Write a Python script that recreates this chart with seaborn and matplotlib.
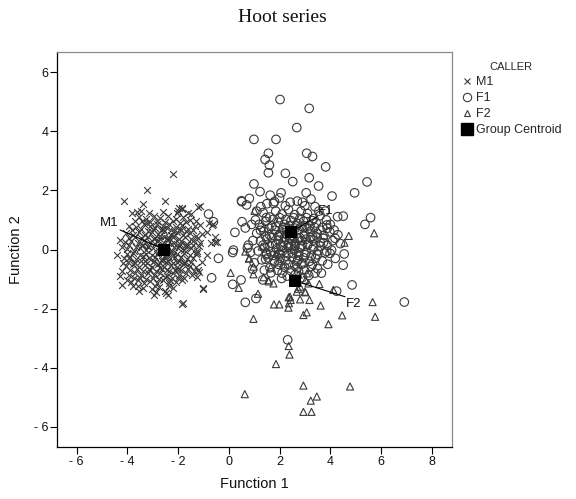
import matplotlib
matplotlib.use("Agg")
import matplotlib.pyplot as plt
import seaborn as sns
import pandas as pd
from matplotlib.lines import Line2D

# ---------------- data ----------------
m1_x = [-2.19, -3.21, -4.12, -3.40, -2.52, -1.86, -1.14, -3.82, -4.29, -4.42, -4.22, -4.16, -4.21, -4.21,
        -4.03, -3.53, -2.95, -2.41, -1.84, -1.00, -1.16, -1.26, -0.87, -0.71, -0.54, -0.48, -0.64, -0.77,
        -0.87, -1.14, -1.50, -1.29, -2.32, -1.07, -1.27, -0.67, -0.54, -1.00, -1.79, -1.20, -1.86,
        -3.55, -3.25, -2.95, -2.70, -2.40, -2.10, -1.80, -1.55, -3.70,
        -3.95, -3.65, -3.35, -3.10, -2.85, -2.60, -2.35, -2.10, -1.85, -1.60, -1.35,
        -4.05, -3.80, -3.55, -3.30, -3.05, -2.80, -2.55, -2.30, -2.05, -1.80, -1.55, -1.30, -1.05,
        -4.10, -3.85, -3.60, -3.35, -3.10, -2.85, -2.62, -2.40, -2.15, -1.90, -1.65, -1.40, -1.15,
        -4.00, -3.75, -3.50, -3.25, -3.00, -2.75, -2.50, -2.25, -2.00, -1.75, -1.50, -1.25,
        -4.15, -3.90, -3.65, -3.40, -3.15, -2.90, -2.65, -2.40, -2.15, -1.90, -1.65, -1.40,
        -4.05, -3.80, -3.55, -3.30, -3.05, -2.80, -2.55, -2.30, -2.05, -1.80, -1.55, -1.30,
        -3.95, -3.70, -3.45, -3.20, -2.95, -2.70, -2.45, -2.20, -1.95, -1.70, -1.45,
        -3.85, -3.60, -3.35, -3.10, -2.85, -2.60, -2.35, -2.10, -1.85,
        -3.40, -3.05, -2.75, -2.50, -2.20,
        -2.60, -2.45, -2.70, -2.30, -2.85, -2.55, -2.20, -2.75, -2.40, -2.65, -2.35, -2.90, -2.15, -2.50,
        -2.95, -2.05, -3.20, -1.95, -2.60, -2.45, -3.00, -2.00, -3.15, -1.90, -2.72, -2.28, -3.40, -1.70,
        -3.30, -1.75, -3.48, -3.78, -4.30, -1.22, -1.62, -2.02, -2.88, -3.62, -3.92, -3.22, -2.48, -1.98]
m1_y = [2.55, 2.01, 1.65, 1.54, 1.65, 1.37, 1.47, 1.22, 0.32, -0.19, 0.10, -0.47, -0.72, -1.20,
        -1.03, -1.39, -1.54, -1.54, -1.85, -1.34, -0.75, -0.92, -0.19, 0.23, 0.43, 0.26, 0.85, 0.91,
        0.60, 0.83, 1.20, 0.98, -1.03, -0.41, -0.13, 0.83, 0.26, -1.31, -1.82, 1.45, 1.40,
        1.10, 1.05, 1.15, 1.08, 1.12, 1.02, 1.10, 1.00, 0.95,
        0.80, 0.75, 0.85, 0.78, 0.88, 0.80, 0.85, 0.75, 0.82, 0.70, 0.78,
        0.55, 0.50, 0.58, 0.48, 0.60, 0.52, 0.62, 0.50, 0.58, 0.48, 0.55, 0.45, 0.52,
        0.25, 0.30, 0.22, 0.32, 0.25, 0.30, 0.20, 0.32, 0.22, 0.28, 0.20, 0.30, 0.22,
        0.02, -0.05, 0.05, -0.02, 0.05, -0.05, 0.04, -0.04, 0.05, -0.03, 0.04, -0.05,
        -0.30, -0.25, -0.32, -0.22, -0.30, -0.25, -0.32, -0.22, -0.30, -0.25, -0.33, -0.28,
        -0.55, -0.50, -0.58, -0.52, -0.60, -0.50, -0.58, -0.52, -0.60, -0.50, -0.57, -0.60,
        -0.85, -0.80, -0.88, -0.78, -0.85, -0.80, -0.90, -0.78, -0.85, -0.80, -0.88,
        -1.10, -1.05, -1.15, -1.08, -1.12, -1.05, -1.15, -1.10, -1.05,
        -1.30, -1.35, -1.28, -1.40, -1.30,
        0.15, -0.12, 0.35, 0.18, -0.15, 0.42, -0.18, 0.10, -0.40, -0.38, 0.40, 0.40, 0.45, -0.25,
        -0.40, -0.42, 0.10, 0.12, 0.68, -0.68, 0.70, -0.70, -0.65, 0.65, -0.62, 0.65, 0.15, 0.15,
        -0.40, -0.45, 1.30, -1.25, -0.90, -0.70, 1.25, 1.30, -1.45, 1.28, -0.30, 0.90, -1.48, 1.40]

# second, denser layer of the M1 core (read row by row)
m1_core_x = [-3.42, -3.12, -2.82, -2.52, -2.22, -1.92, -1.68,
             -3.82, -3.48, -3.20, -2.93, -2.68, -2.42, -2.18, -1.93, -1.68, -1.42,
             -3.95, -3.70, -3.45, -3.20, -2.95, -2.70, -2.45, -2.22, -1.98, -1.73, -1.48, -1.22,
             -3.92, -3.68, -3.43, -3.18, -2.93, -2.68, -2.43, -2.18, -1.93, -1.68, -1.43, -1.18,
             -4.02, -3.78, -3.52, -3.28, -3.03, -2.78, -2.53, -2.28, -2.03, -1.78, -1.53, -1.30,
             -3.98, -3.72, -3.48, -3.22, -2.98, -2.72, -2.48, -2.22, -1.98, -1.72, -1.48,
             -3.88, -3.62, -3.38, -3.12, -2.88, -2.62, -2.38, -2.12, -1.88, -1.62, -1.38,
             -3.75, -3.50, -3.25, -3.00, -2.75, -2.50, -2.25, -2.00, -1.75,
             -3.60, -2.90, -2.35, -3.15, -2.60, -2.05]
m1_core_y = [0.95, 0.92, 0.98, 0.93, 0.96, 0.90, 0.93,
             0.66, 0.70, 0.64, 0.72, 0.67, 0.73, 0.64, 0.70, 0.62, 0.66,
             0.40, 0.43, 0.38, 0.42, 0.36, 0.45, 0.38, 0.43, 0.37, 0.42, 0.36, 0.40,
             0.14, 0.10, 0.16, 0.12, 0.18, 0.08, 0.14, 0.10, 0.17, 0.09, 0.15, 0.12,
             -0.16, -0.12, -0.18, -0.14, -0.20, -0.12, -0.17, -0.10, -0.16, -0.13, -0.18, -0.14,
             -0.42, -0.45, -0.40, -0.46, -0.42, -0.47, -0.43, -0.46, -0.40, -0.46, -0.42,
             -0.70, -0.67, -0.73, -0.68, -0.72, -0.66, -0.73, -0.68, -0.71, -0.67, -0.73,
             -0.97, -0.95, -1.00, -0.96, -0.99, -0.94, -0.98, -0.95, -0.98,
             -1.25, -1.22, -1.25, 1.25, 1.28, 1.22]

f1_x = [2.02, 3.17, 2.68, 0.99, 1.86, 3.07, 3.30, 1.56, 1.43, 1.60, 1.56, 3.82, 2.23, 2.52, 3.17, 3.54,
        5.45, 4.96, 0.99, 1.23, 1.63, 2.06, 3.05, 3.24, 2.70, 4.07, 0.50, 0.81, 0.70, 1.26, 1.76, 2.23,
        3.00, -0.80, -0.61, -0.41, -0.68, 0.18, 0.15, 0.24, 0.52, 0.65, 0.77, 0.73, 0.94, 0.48, 0.15,
        0.65, 1.07, 1.34, 1.45, 1.49, 1.66, 2.08, 2.32, 4.86, 4.25, 6.92, 4.29, 4.51, 5.37, 5.59, 4.55,
        4.51, 4.15, 4.19, 3.86, 3.99, 3.86, 3.73, 0.51,
        1.35, 1.62, 1.85, 2.10, 2.35, 2.60, 2.85, 3.10, 3.35, 3.60, 3.85,
        1.20, 1.45, 1.70, 1.95, 2.20, 2.45, 2.70, 2.95, 3.20, 3.45, 3.70, 4.00,
        1.10, 1.38, 1.60, 1.82, 2.05, 2.28, 2.52, 2.75, 2.98, 3.22, 3.48, 3.75, 3.98,
        1.25, 1.50, 1.72, 1.95, 2.18, 2.40, 2.62, 2.88, 3.12, 3.35, 3.60, 3.88,
        1.15, 1.40, 1.65, 1.88, 2.12, 2.35, 2.58, 2.80, 3.05, 3.28, 3.52, 3.78, 4.05,
        1.30, 1.55, 1.80, 2.02, 2.25, 2.50, 2.72, 2.95, 3.18, 3.42, 3.68,
        1.62, 1.92, 2.20, 2.45, 2.70, 2.98, 3.25, 3.50,
        2.30, 2.62, 2.90, 3.15,
        2.40, 2.55, 2.30, 2.65, 2.50, 2.80, 2.20, 2.60, 2.75, 2.90, 3.00, 2.15, 2.45, 2.35, 2.85, 3.05,
        3.30, 1.95, 2.05, 2.70,
        2.42, 2.00, 2.90, 3.40, 1.50, 1.80, 3.55, 4.30, 4.40, 4.20, 0.95, 0.85, 1.00, 0.90, 1.05, 1.10,
        3.65, 3.90, 4.10, 1.40, 1.25, 3.80]
f1_y = [5.08, 4.78, 4.13, 3.73, 3.73, 3.26, 3.15, 3.26, 3.05, 2.86, 2.60, 2.80, 2.58, 2.30, 2.43, 2.15,
        2.29, 1.92, 2.22, 1.96, 1.84, 1.92, 1.92, 1.71, 1.64, 1.81, 1.65, 1.73, 1.51, 1.45, 1.56, 1.48,
        1.48, 1.20, 0.94, -0.30, -0.96, -0.02, -0.10, 0.58, 0.94, 0.73, 0.15, 0.05, -0.67, -1.03, -1.18,
        -1.79, -1.66, -1.03, -0.33, -0.13, -0.79, -0.98, -3.06, -1.20, -1.41, -1.78, 1.11, 1.13, 0.85, 1.08, -0.15,
        -0.53, 0.66, 0.38, 0.83, -0.13, -0.07, 0.23, 1.62,
        1.25, 1.10, 1.30, 1.20, 1.35, 1.18, 1.30, 1.22, 1.05, 1.15, 1.00,
        0.85, 0.95, 0.80, 0.92, 0.85, 0.98, 0.88, 0.95, 0.80, 0.90, 0.75, 0.85,
        0.55, 0.62, 0.50, 0.65, 0.55, 0.70, 0.58, 0.68, 0.52, 0.62, 0.55, 0.48, 0.60,
        0.28, 0.35, 0.20, 0.32, 0.25, 0.38, 0.22, 0.30, 0.18, 0.32, 0.25, 0.15,
        -0.05, 0.05, -0.08, 0.02, -0.05, 0.08, -0.02, 0.05, -0.10, 0.00, -0.05, -0.12, -0.02,
        -0.35, -0.28, -0.40, -0.30, -0.38, -0.25, -0.35, -0.28, -0.40, -0.30, -0.38,
        -0.62, -0.70, -0.60, -0.72, -0.62, -0.70, -0.58, -0.65,
        -0.90, -0.85, -0.95, -0.88,
        0.65, 0.45, 0.50, 0.80, 0.30, 0.40, 0.40, 0.10, -0.10, 0.15, 0.75, 0.75, 0.15, -0.15, -0.50, 0.35,
        0.45, 0.45, 0.10, -0.40,
        1.60, 1.75, 1.60, 1.45, 1.55, 1.62, 1.30, 0.50, 0.20, -0.30, 0.30, -0.10, -0.45, 0.85, 1.00, 1.30,
        -0.80, -0.50, 0.30, -0.70, 0.65, 1.30]

# second, denser layer of the F1 core (read row by row)
f1_core_x = [1.48, 1.75, 2.00, 2.25, 2.55, 2.80, 3.05, 3.28,
             1.30, 1.58, 1.85, 2.12, 2.38, 2.62, 2.88, 3.12, 3.38, 3.62, 3.88,
             1.45, 1.70, 1.98, 2.22, 2.48, 2.72, 2.98, 3.22, 3.48, 3.72,
             1.35, 1.60, 1.85, 2.10, 2.35, 2.60, 2.85, 3.10, 3.35, 3.62,
             1.48, 1.75, 2.00, 2.25, 2.50, 2.75, 3.00, 3.25, 3.50,
             1.95, 2.35, 2.60, 2.92, 3.30, 2.10, 2.75, 3.40]
f1_core_y = [1.08, 1.02, 1.08, 1.02, 1.08, 1.05, 1.08, 0.98,
             0.75, 0.72, 0.78, 0.68, 0.80, 0.72, 0.78, 0.70, 0.75, 0.65, 0.72,
             0.45, 0.40, 0.48, 0.42, 0.48, 0.38, 0.45, 0.40, 0.42, 0.38,
             0.15, 0.12, 0.18, 0.12, 0.20, 0.15, 0.10, 0.15, 0.10, 0.12,
             -0.18, -0.20, -0.15, -0.22, -0.12, -0.20, -0.18, -0.22, -0.18,
             -0.50, -0.52, -0.55, -0.48, -0.50, -0.80, -0.75, -0.80]

f2_x = [4.73, 4.56, 5.73, 0.65, 0.81, 0.07, 0.97, 0.97, 0.39, 1.15, 1.57, 1.76, 1.91, 1.97, 3.57, 4.12,
        3.18, 5.67, 5.77, 4.47, 3.62, 3.93, 2.94, 3.07, 1.78, 1.99, 2.35, 2.37, 2.81, 2.44, 0.97, 2.36,
        2.39, 1.86, 0.63, 2.94, 4.78, 3.47, 3.23, 2.94, 3.26, 2.68, 3.00, 2.81, 3.14, 2.41, 1.01, 0.79,
        1.37, 1.56, 2.36, 2.73, 3.02, 3.03, 3.08, 1.86, 2.16, 2.75, 2.20, 1.30, 1.65]
f2_y = [0.46, 0.23, 0.55, -0.07, -0.30, -0.79, -0.58, -0.84, -1.30, -1.50, -1.08, -1.15, -0.13, -0.38, -1.17, -1.37,
        -1.71, -1.78, -2.28, -2.23, -1.90, -2.53, -2.22, -2.13, -1.86, -1.86, -1.97, -1.82, -1.69, -1.71, -2.35, -3.27,
        -3.56, -3.88, -4.90, -4.61, -4.64, -4.98, -5.12, -5.50, -5.50, -1.43, -1.43, -1.26, -1.15, -1.60, 1.31, -0.31,
        -0.94, -1.04, -1.62, -1.33, -1.45, -1.03, -0.81, -0.15, -0.50, -0.85, 0.05, 0.10, -0.60]

centroid_names = ["M1", "F1", "F2"]
centroid_x = [-2.54, 2.47, 2.60]
centroid_y = [0.00, 0.60, -1.06]
label_x = [-4.72, 3.80, 4.92]
label_y = [0.90, 1.31, -1.86]
leader_x = [-4.29, 3.47, 4.58]
leader_y = [0.66, 1.11, -1.60]

x_ticks = [-6, -4, -2, 0, 2, 4, 6, 8]
x_tick_labels = ["- 6", "- 4", "- 2", "0", "2", "4", "6", "8"]
y_ticks = [-6, -4, -2, 0, 2, 4, 6]
y_tick_labels = ["- 6", "- 4", "- 2", "0", "2", "4", "6"]

# ---------------- plot ----------------
sns.set_theme(style="white")
plt.rcParams['font.family'] = ['Liberation Sans', 'DejaVu Sans']

gray = "#3a3a3a"
fig = plt.figure(figsize=(5.76, 4.99), dpi=100)
ax = fig.add_axes([56.7 / 576, 1 - 446.7 / 499, (451.7 - 56.7) / 576, (446.7 - 52.3) / 499])

sns.scatterplot(x=m1_x + m1_core_x, y=m1_y + m1_core_y, marker="x", s=24, color=gray,
                linewidth=0.8, ax=ax, legend=False)
sns.scatterplot(x=f1_x + f1_core_x, y=f1_y + f1_core_y, marker="o", s=38, color=gray, ax=ax, legend=False)
c = ax.collections[-1]
c.set_facecolor("none"); c.set_edgecolor(gray); c.set_linewidth(0.8)
sns.scatterplot(x=f2_x, y=f2_y, marker="^", s=26, color=gray, ax=ax, legend=False)
c = ax.collections[-1]
c.set_facecolor("none"); c.set_edgecolor(gray); c.set_linewidth(0.8)

cdf = pd.DataFrame({"x": centroid_x, "y": centroid_y, "name": centroid_names})
sns.scatterplot(data=cdf, x="x", y="y", marker="s", s=64, color="black", linewidth=0, ax=ax,
                legend=False, zorder=5)

for i, nm in enumerate(centroid_names):
    ax.plot([centroid_x[i], leader_x[i]], [centroid_y[i], leader_y[i]], color="black", lw=0.8, zorder=4)
    ax.text(label_x[i], label_y[i], nm, fontsize=9.5, ha="center", va="center", color="#111111")

ax.set_xlim(-6.79, 8.79)
ax.set_ylim(-6.68, 6.68)
ax.set_xticks(x_ticks)
ax.set_xticklabels(x_tick_labels, fontsize=9)
ax.set_yticks(y_ticks)
ax.set_yticklabels(y_tick_labels, fontsize=9)
ax.tick_params(axis="both", direction="out", length=5, width=0.8, color="black", labelcolor="#111111")
ax.tick_params(axis="x", pad=2, bottom=True)
ax.tick_params(axis="y", pad=1, left=True)
ax.set_xlabel("Function 1", fontsize=10.5, labelpad=6, color="#111111")
ax.set_ylabel("Function 2", fontsize=10.5, labelpad=8, color="#111111")

for s in ["left", "bottom"]:
    ax.spines[s].set_color("black"); ax.spines[s].set_linewidth(0.9)
for s in ["top", "right"]:
    ax.spines[s].set_color("#8a8a8a"); ax.spines[s].set_linewidth(0.9)

handles = [
    Line2D([], [], marker="x", ls="none", color=gray, markersize=4.5, markeredgewidth=0.8),
    Line2D([], [], marker="o", ls="none", markerfacecolor="none", markeredgecolor=gray, markersize=6,
           markeredgewidth=0.8),
    Line2D([], [], marker="^", ls="none", markerfacecolor="none", markeredgecolor=gray, markersize=5,
           markeredgewidth=0.8),
    Line2D([], [], marker="s", ls="none", color="black", markersize=8),
]
leg = fig.legend(handles, ["M1", "F1", "F2", "Group Centroid"], title="CALLER",
                 loc="upper left", bbox_to_anchor=(461 / 576, 1 - 62 / 499),
                 frameon=False, fontsize=9, title_fontsize=8, handlelength=0.9, handletextpad=0.3,
                 labelspacing=0.32, borderpad=0, borderaxespad=0)

fig.text(0.491, 1 - 17 / 499, "Hoot series", fontsize=14, ha="center", va="center",
         family=["Liberation Serif", "DejaVu Serif"], color="#111111")

fig.savefig("out.png", dpi=100)
